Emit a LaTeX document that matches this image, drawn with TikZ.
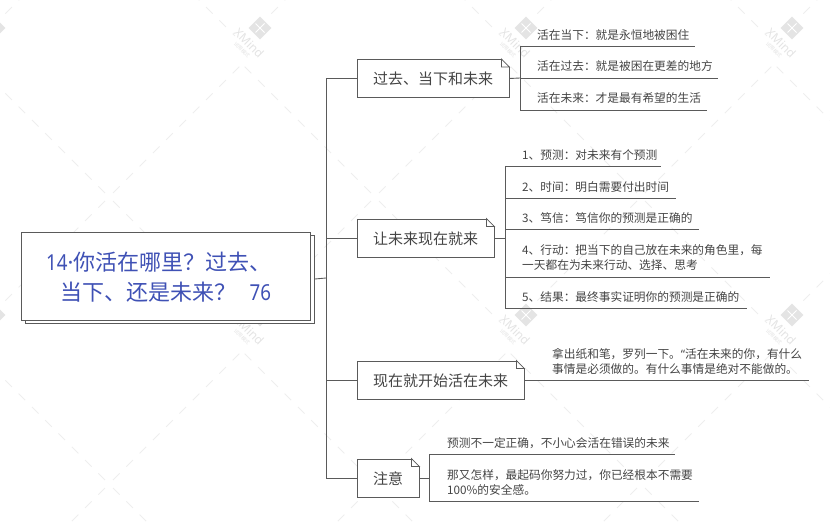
\documentclass[tikz,border=0pt]{standalone}
\usepackage{fontspec}
\setmainfont{Noto Sans CJK SC}
\newfontfamily\latinfont{Noto Sans}
\newfontfamily\digitfont[FakeStretch=0.85]{Noto Sans}
\usetikzlibrary{positioning,calc}
\definecolor{linecol}{HTML}{5A5A5A}
\definecolor{textcol}{HTML}{444444}
\definecolor{titlecol}{HTML}{3F51B5}
\definecolor{markcol}{HTML}{E4E4E4}
\definecolor{dashcol}{HTML}{EEEEEE}
\tikzset{
  conn/.style={draw=linecol,line width=.9pt},
  rootbox/.style={draw=linecol,line width=.9pt,fill=white,minimum width=289pt,minimum height=88pt,inner sep=0pt},
  topicbox/.style={draw=linecol,line width=.9pt,fill=white,minimum height=38pt,inner sep=0pt,text height=12pt,text depth=0pt,text=textcol,font=\fontsize{15}{18}\selectfont},
  leaf/.style={anchor=west,inner sep=0pt,align=left,text=textcol,font=\fontsize{11.7}{15}\selectfont},
  markline/.style={draw=dashcol,line width=.9pt,dash pattern=on 9.4pt off 9.4pt},
}
\begin{document}
\begin{tikzpicture}[x=1pt,y=-1pt]
  \useasboundingbox (0,0) rectangle (830,524);
  % watermark
  \begin{scope}
    \clip (0,0) rectangle (830,524);
    \foreach \i in {-1,...,3} {
      \foreach \j in {0,1,2} {
        \coordinate (a\i\j) at (109+266*\i,197+287*\j-287);
        \draw[markline] ($(a\i\j)+(4,-4)$) -- ++(129,-129);
        \draw[markline] ($(a\i\j)+(4,4)$) -- ++(129,129);
        \draw[markline] ($(a\i\j)+(-4,-4)$) -- ++(-129,-129);
        \draw[markline] ($(a\i\j)+(-4,4)$) -- ++(-129,129);
      }
    }
    \foreach \i in {0,...,3} {
      \foreach \j in {0,1} {
        \coordinate (m\i\j) at (-6+266*\i,28+287*\j);
        \fill[white,rotate around={45:(m\i\j)}] ($(m\i\j)+(-34,-12)$) rectangle ($(m\i\j)+(14,26)$);
        \node[fill=markcol,minimum size=16pt,inner sep=0pt,rotate=45] (logo\i\j) at (m\i\j) {};
        \draw[white,line width=1pt] ($(m\i\j)+(-4.5,-4.5)$) -- ++(9,9) ($(m\i\j)+(4.5,-4.5)$) -- ++(-9,9);
      }
    }
    \foreach \i in {1,2,3} {
      \foreach \j in {0,1} {
        \node[text=markcol,rotate=-45,inner sep=0pt,font=\latinfont\fontsize{12}{12}\selectfont\bfseries] (mark\i\j) at ($(m\i\j)+(-11,15)$) {XMind};
        \node[text=markcol,rotate=-45,inner sep=0pt,font=\fontsize{5}{5}\selectfont] (sub\i\j) at ($(m\i\j)+(-18,22)$) {试用模式};
      }
    }
  \end{scope}
  % trunk
  \coordinate (trunk) at (326,278);
  \node[rootbox] (shadow) at (170,279) {};
  \node[rootbox] (root) at (166,276) {};
  \node[anchor=west,text=titlecol,align=left,inner sep=0pt,font=\fontsize{22}{30}\selectfont] (title) at (46,277.5) {{\digitfont 14}{\latinfont ·}你活在哪里？过去、\\\hspace*{14.5pt}当下、还是未来？\hspace{13pt}{\digitfont 76}};
  \node[topicbox,minimum width=152pt] (past) at (433,78.5) {过去、当下和未来};
  \node[topicbox,minimum width=137pt] (soon) at (425.5,238) {让未来现在就来};
  \node[topicbox,minimum width=167pt] (start) at (440.5,380) {现在就开始活在未来};
  \node[topicbox,minimum width=62pt] (note) at (388,478) {注意};
  \draw[conn] (shadow.east) -- (trunk);
  \draw[conn] (trunk |- past.west) -- (trunk |- note.west);
  \foreach \n in {past,soon,start,note} {
    \draw[conn] (trunk |- \n.west) -- (\n.west);
    \fill[white] ($(\n.north east)+(-8.5,-1)$) -- ++(9.5,0) -- ++(0,9.5) -- cycle;
    \draw[draw=linecol,line width=.7pt] ($(\n.north east)+(-8,0)$) -- ++(8,8) -- ++(-8,0) -- cycle;
  }
  % leaves of the first topic
  \coordinate (bus1) at (520,78);
  \foreach \k/\y/\e/\t in {1/46.5/695/活在当下：就是永恒地被困住,2/78/718/活在过去：就是被困在更差的地方,3/110/707/活在未来：才是最有希望的生活} {
    \coordinate (u1\k) at (\e,\y);
    \node[leaf] (t1\k) at (537,\y-11.5) {\t};
    \draw[conn] (bus1 |- u1\k) -- (u1\k);
  }
  \draw[conn] (bus1 |- u11) -- (bus1 |- u13);
  \draw[conn] (past.east) -- (bus1);
  % leaves of the second topic
  \coordinate (bus2) at (505,238);
  \foreach \k/\y/\e/\t in {1/166/661/1、预测：对未来有个预测,2/198/676/2、时间：明白需要付出时间,3/229/699/3、笃信：笃信你的预测是正确的,5/308/747/5、结果：最终事实证明你的预测是正确的} {
    \coordinate (u2\k) at (\e,\y);
    \node[leaf] (t2\k) at (522,\y-11.3) {\t};
    \draw[conn] (bus2 |- u2\k) -- (u2\k);
  }
  \coordinate (u24) at (770,277);
  \node[leaf] (t24) at (522,257.2) {4、行动：把当下的自己放在未来的角色里，每\\一天都在为未来行动、选择、思考};
  \draw[conn] (bus2 |- u24) -- (u24);
  \draw[conn] (bus2 |- u21) -- (bus2 |- u25);
  \draw[conn] (soon.east) -- (bus2);
  % leaf of the third topic
  \coordinate (u31) at (809,380);
  \node[leaf] (t31) at (552,361) {拿出纸和笔，罗列一下。{\latinfont “}活在未来的你，有什么\\事情是必须做的。有什么事情是绝对不能做的。};
  \draw[conn] (start.east) -- (u31);
  % leaves of the fourth topic
  \coordinate (bus4) at (429,478);
  \coordinate (u41) at (675,454);
  \coordinate (u42) at (699,501);
  \node[leaf] (t41) at (447,442.7) {预测不一定正确，不小心会活在错误的未来};
  \node[leaf] (t42) at (447,482) {那又怎样，最起码你努力过，你已经根本不需要\\100\%的安全感。};
  \draw[conn] (bus4 |- u41) -- (u41);
  \draw[conn] (bus4 |- u42) -- (u42);
  \draw[conn] (bus4 |- u41) -- (bus4 |- u42);
  \draw[conn] (note.east) -- (bus4);
\end{tikzpicture}
\end{document}
